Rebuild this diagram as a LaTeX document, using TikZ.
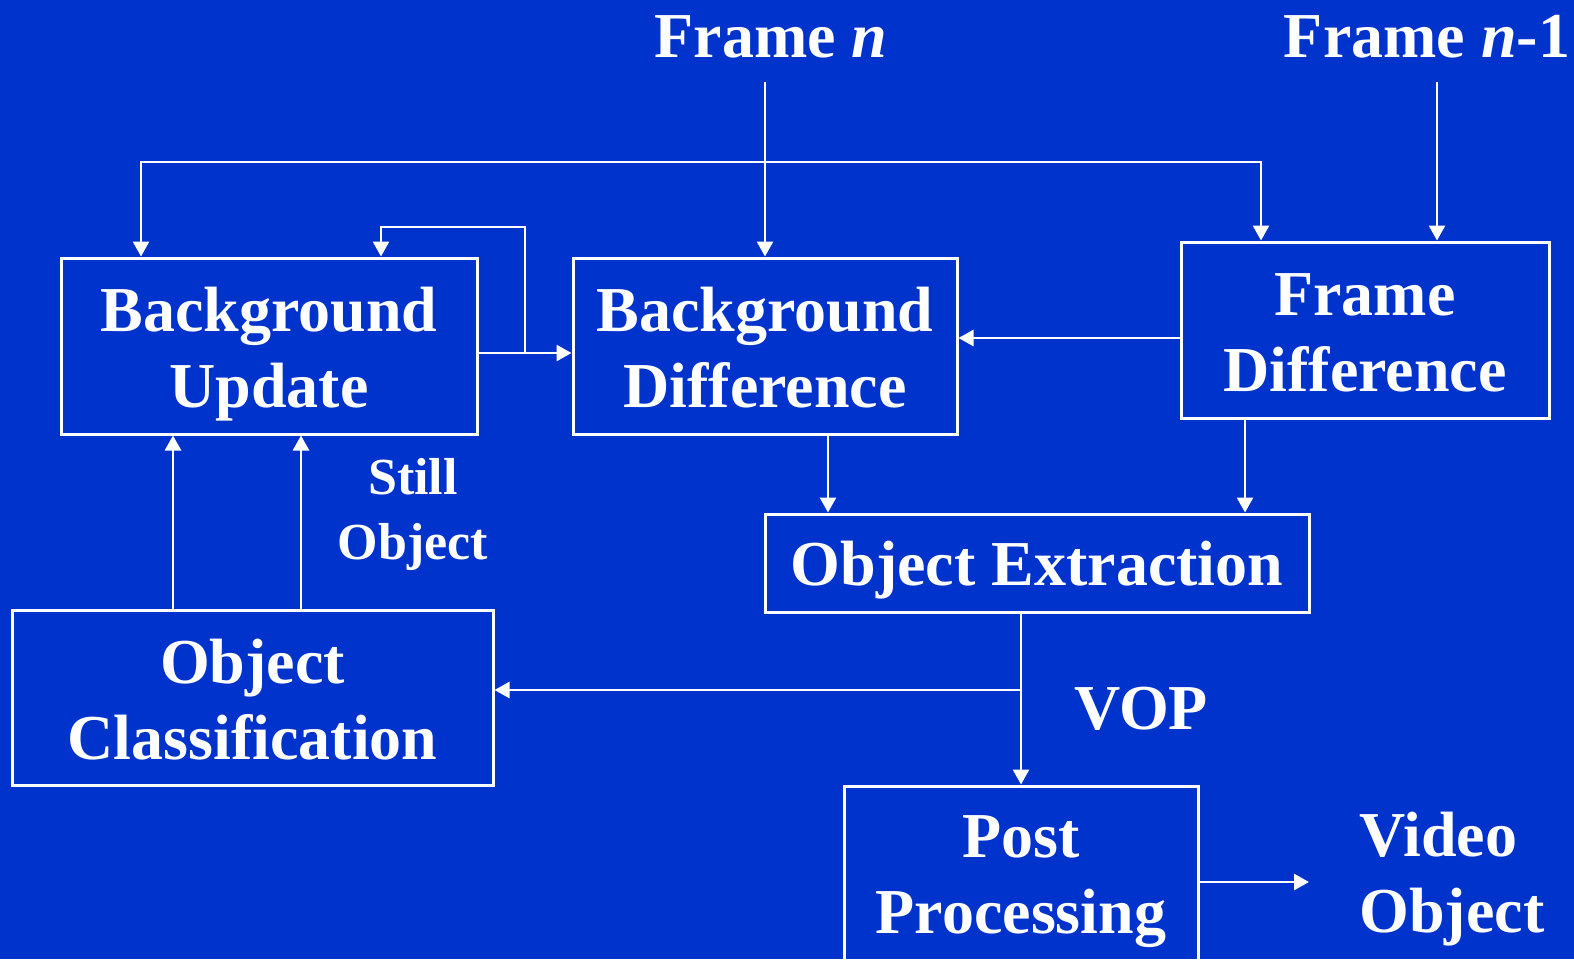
\documentclass[tikz,border=0pt]{standalone}
\usepackage{fontspec}
\setmainfont{Liberation Serif}
\usetikzlibrary{arrows.meta}
\definecolor{bgblue}{RGB}{0,51,204}
\begin{document}
\begin{tikzpicture}[x=0.5pt,y=-0.5pt,
  box/.style={draw=white,line width=1.5pt,inner sep=0pt},
  lbl/.style={inner sep=0pt,align=center,text=white,font=\bfseries\fontsize{32}{38}\selectfont},
  conn/.style={draw=white,line width=1.3pt,-{Triangle[length=7.5pt,width=8pt]}},
  conn2/.style={draw=white,line width=1.3pt,{Triangle[length=7.5pt,width=8pt]}-{Triangle[length=7.5pt,width=8pt]}}]
\useasboundingbox (0,0) rectangle (1574,959);
\clip (0,0) rectangle (1574,959);
\fill[bgblue] (0,0) rectangle (1574,959);
% boxes
\node[box,minimum width=208pt,minimum height=88pt] (BU) at (269,346) {};
\node[box,minimum width=192pt,minimum height=88pt] (BD) at (765,346) {};
\node[box,minimum width=184pt,minimum height=88pt] (FD) at (1365,330) {};
\node[box,minimum width=272pt,minimum height=49pt] (OE) at (1037,563) {};
\node[box,minimum width=240.5pt,minimum height=87.5pt] (OC) at (252.5,697.5) {};
\node[box,minimum width=177pt,minimum height=88pt] (PP) at (1021,874) {};
% box texts
\node[lbl] (BUt) at ([yshift=-4pt]BU.center) {Background\\Update};
\node[lbl] (BDt) at ([yshift=-1pt]BD.center) {Background\\Difference};
\node[lbl] (FDt) at ([yshift=-1.5pt]FD.center) {Frame\\Difference};
\node[lbl] (OEt) at ([yshift=-3.5pt]OE.center) {Object Extraction};
\node[lbl] (OCt) at ([yshift=-1pt]OC.center) {Object\\Classification};
\node[lbl] (PPt) at ([yshift=-4pt]PP.center) {Post\\Processing};
% labels
\node[lbl,anchor=base] (FN) at (771,57) {Frame \textit{n}};
\node[lbl,anchor=base] (FN1) at (1427,57) {Frame \textit{n}-1};
\node[lbl,font=\bfseries\fontsize{26}{32.5}\selectfont] (SO) at (413,514) {Still\\Object};
\node[lbl] (VOP) at (1141,709) {VOP};
\node[lbl,align=left] (VO) at (1452,879) {Video\\Object};
% coordinates
\coordinate (fnin) at (765,82);
\coordinate (fn1in) at (1437,82);
\coordinate (busL) at (141,162);
\coordinate (busR) at (1261,162);
\coordinate (fb) at (525,353);
\coordinate (fbtop) at (525,227);
\coordinate (fbl) at (381,227);
\coordinate (c1) at (1181,338);
\coordinate (c2) at (828,434);
\coordinate (c3) at (1245,418);
\coordinate (c4) at (1021,612);
\coordinate (c5) at (1021,690);
\coordinate (c6) at (173,610);
\coordinate (c7) at (301,610);
\coordinate (vo) at (1309,882);
% connectors
\draw[conn] (fnin) -- (BD.north);
\draw[conn2] (BU.north -| busL) -- (busL) -- (busR) -- (FD.north -| busR);
\draw[conn] (fn1in) -- (fn1in |- FD.north);
\draw[conn] (BU.east |- fb) -- (BD.west |- fb);
\draw[conn] (fb) -- (fbtop) -- (fbl) -- (fbl |- BU.north);
\draw[conn] (c1) -- (c1 -| BD.east);
\draw[conn] (c2) -- (c2 |- OE.north);
\draw[conn] (c3) -- (c3 |- OE.north);
\draw[conn] (c4) -- (PP.north);
\draw[conn] (c5) -- (c5 -| OC.east);
\draw[conn] (c6) -- (c6 |- BU.south);
\draw[conn] (c7) -- (c7 |- BU.south);
\draw[conn] (PP.east |- vo) -- (vo);
\end{tikzpicture}
\end{document}
